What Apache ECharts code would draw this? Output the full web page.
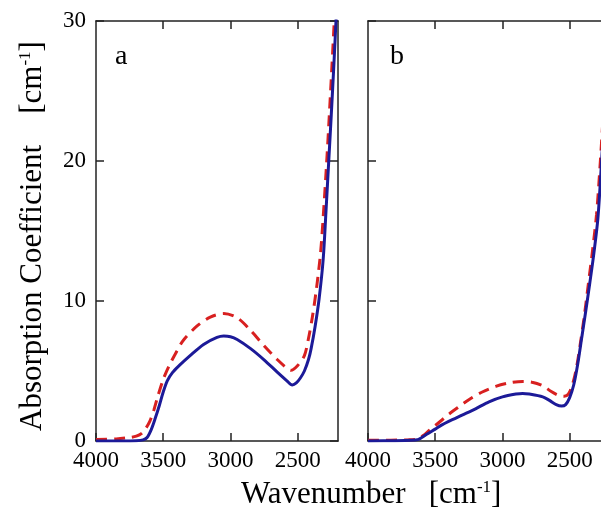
<!DOCTYPE html>
<html>
<head>
<meta charset="utf-8">
<script src="https://cdn.jsdelivr.net/npm/echarts@6/dist/echarts.min.js"></script>
<style>html,body{margin:0;padding:0;background:#fff}#c{width:601px;height:513px}</style>
</head>
<body>
<div id="c"></div>
<script>
// ---- data (wavenumber [cm^-1], absorption coefficient [cm^-1]) ----
var wnBlueA  = [4000,3800,3700,3650,3620,3590,3560,3530,3500,3470,3430,3380,3300,3200,3100,3050,3000,2950,2850,2750,2650,2580,2540,2510,2480,2450,2420,2400,2370,2340,2310,2290,2270,2250,2230,2210];
var absBlueA = [0,0,0.02,0.08,0.25,0.8,1.6,2.5,3.5,4.3,4.9,5.4,6.1,6.9,7.4,7.5,7.45,7.25,6.6,5.8,4.9,4.3,4.0,4.15,4.5,5.0,5.8,6.6,8.2,10.2,13.0,16.3,19.8,23.3,27.0,31.0];
var wnRedA   = [4000,3850,3750,3700,3660,3630,3600,3570,3540,3500,3460,3400,3350,3250,3150,3050,2950,2850,2750,2650,2580,2550,2500,2450,2420,2390,2360,2330,2310,2285,2265,2245,2225,2210];
var absRedA  = [0.1,0.15,0.25,0.35,0.55,0.9,1.4,2.2,3.2,4.4,5.3,6.4,7.2,8.2,8.85,9.1,8.8,7.9,6.8,5.8,5.2,5.05,5.4,6.1,7.3,8.9,10.9,13.4,16.0,19.8,23.2,26.8,30.5,33];
var wnBlueB  = [4000,3800,3680,3630,3600,3560,3500,3450,3400,3300,3200,3100,3000,2900,2850,2800,2700,2650,2600,2560,2530,2500,2470,2440,2410,2380,2350,2320,2290,2265,2240,2210];
var absBlueB = [0,0.02,0.05,0.1,0.25,0.5,0.85,1.15,1.4,1.85,2.3,2.8,3.15,3.35,3.4,3.35,3.15,2.9,2.6,2.5,2.6,3.1,4.0,5.5,7.4,9.3,11.3,13.4,15.9,19.6,23.6,28.5];
var wnRedB   = [4000,3700,3630,3580,3540,3500,3450,3400,3330,3250,3150,3050,2950,2850,2780,2700,2640,2580,2540,2510,2480,2450,2420,2390,2360,2330,2300,2275,2250,2220];
var absRedB  = [0.05,0.08,0.15,0.45,0.8,1.1,1.5,1.9,2.4,2.95,3.5,3.9,4.15,4.25,4.2,3.95,3.55,3.25,3.2,3.35,4.0,5.2,7.0,9.0,11.3,13.6,16.2,19.5,23.4,28.5];
var xTickValues = [4000,3500,3000,2500];
var yTickValues = [0,10,20,30];
var panelNames = ['a','b'];

function zip(xs, ys){ return xs.map(function(x,i){ return [x, ys[i]]; }); }

var FONT = '"Liberation Serif","Times New Roman",serif';
var BLUE = '#1c1a98';
var RED = '#d82020';
var AXC = '#222';

function xAxisCfg(grid, pos, labels){
  return {
    type:'value', gridIndex:grid, position:pos, inverse:true, min:2200, max:4000,
    axisLine:{show:true, onZero:false, lineStyle:{color:AXC, width:1.5}},
    axisTick:{show:true, inside:true, length:8, customValues: labels ? xTickValues : [3500,3000,2500], lineStyle:{color:AXC, width:1.5}},
    axisLabel:{show:labels, customValues:xTickValues, formatter:function(v){return String(v);}, color:'#000', fontFamily:FONT, fontSize:23, margin:8},
    splitLine:{show:false}
  };
}
function yAxisCfg(grid, pos, labels){
  return {
    type:'value', gridIndex:grid, position:pos, min:0, max:30, interval:10,
    axisLine:{show:true, onZero:false, lineStyle:{color:AXC, width:1.5}},
    axisTick:{show:true, inside:true, length:8, lineStyle:{color:AXC, width:1.5}},
    axisLabel:{show:labels, customValues:yTickValues, formatter:function(v){return String(v);}, color:'#000', fontFamily:FONT, fontSize:23, margin:10},
    splitLine:{show:false}
  };
}

var yA = yAxisCfg(0,'left',true);
yA.name = 'Absorption Coefficient    [cm{sup|-1}]';
yA.nameLocation = 'middle';
yA.nameRotate = 90;
yA.nameGap = 48;
yA.nameTextStyle = {color:'#000', fontFamily:FONT, fontSize:31, padding:[0,10,0,0],
  rich:{sup:{fontFamily:FONT, fontSize:17, color:'#000', verticalAlign:'top', lineHeight:31}}};

var option = {
  animation:false,
  backgroundColor:'#fff',
  title:[
    {text:'Wavenumber   [cm{sup|-1}]', left:236, top:474,
     textStyle:{color:'#000', fontFamily:FONT, fontSize:31, fontWeight:'normal',
       rich:{sup:{fontFamily:FONT, fontSize:17, color:'#000', verticalAlign:'top', lineHeight:31}}}},
    {text:panelNames[0], left:110, top:38, textStyle:{color:'#000', fontFamily:FONT, fontSize:28, fontWeight:'normal'}},
    {text:panelNames[1], left:385, top:38, textStyle:{color:'#000', fontFamily:FONT, fontSize:28, fontWeight:'normal'}}
  ],
  grid:[
    {left:96, top:21, width:242, height:420, outerBoundsMode:'none', containLabel:false},
    {left:368, top:21, width:242, height:420, outerBoundsMode:'none', containLabel:false}
  ],
  xAxis:[ xAxisCfg(0,'bottom',true), xAxisCfg(0,'top',false), xAxisCfg(1,'bottom',true), xAxisCfg(1,'top',false) ],
  yAxis:[ yA, yAxisCfg(0,'right',false), yAxisCfg(1,'left',false), yAxisCfg(1,'right',false) ],
  series:[
    {type:'line', xAxisIndex:0, yAxisIndex:0, data:zip(wnRedA,absRedA), showSymbol:false, smooth:0.3, clip:true,
     lineStyle:{color:RED, width:3, type:[11,7]}, z:2},
    {type:'line', xAxisIndex:0, yAxisIndex:0, data:zip(wnBlueA,absBlueA), showSymbol:false, smooth:0.3, clip:true,
     lineStyle:{color:BLUE, width:3}, z:3},
    {type:'line', xAxisIndex:2, yAxisIndex:2, data:zip(wnRedB,absRedB), showSymbol:false, smooth:0.3, clip:true,
     lineStyle:{color:RED, width:3, type:[11,7]}, z:2},
    {type:'line', xAxisIndex:2, yAxisIndex:2, data:zip(wnBlueB,absBlueB), showSymbol:false, smooth:0.3, clip:true,
     lineStyle:{color:BLUE, width:3}, z:3}
  ]
};
var chart = echarts.init(document.getElementById('c'), null, {renderer:'canvas'});
chart.setOption(option);
</script>
</body>
</html>
